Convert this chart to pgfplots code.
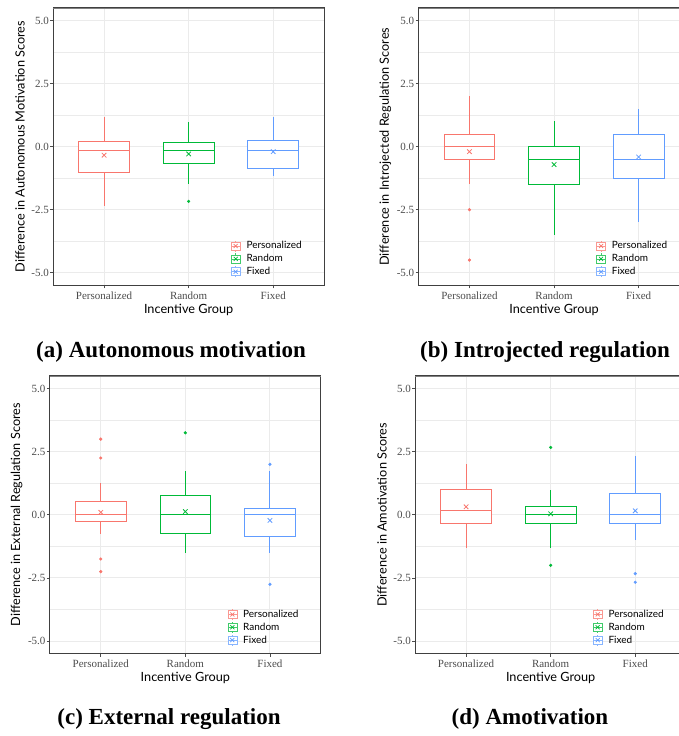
\documentclass[border=0pt]{standalone}
\usepackage{fontspec}
\setmainfont{Liberation Serif}
\newfontfamily\sansf{Lato}
\usepackage{pgfplots}
\pgfplotsset{compat=1.18}
\usepgfplotslibrary{statistics}
\definecolor{cP}{HTML}{F8766D}
\definecolor{cR}{HTML}{00BA38}
\definecolor{cF}{HTML}{619CFF}
\definecolor{gridc}{HTML}{EBEBEB}
\pgfplotsset{
  panel/.style={
    scale only axis, width=270.7pt, height=277.3pt,
    xmin=0.4, xmax=3.6, ymin=-5.5, ymax=5.5,
    xtick={1,2,3}, xticklabels={Personalized,Random,Fixed},
    ytick={-5,-2.5,0,2.5,5}, yticklabels={-5.0,-2.5,0.0,2.5,5.0},
    minor ytick={-3.75,-1.25,1.25,3.75},
    grid=both,
    major grid style={draw=gridc, line width=1pt},
    minor grid style={draw=gridc, line width=0.6pt},
    tick align=outside, tick pos=left,
    major tick length=3pt, minor tick length=0pt,
    tick style={draw=black!70, line width=0.7pt},
    ticklabel style={font=\fontsize{11}{13}\selectfont, text=black!70},
    yticklabel style={inner sep=1.3pt},
    axis line style={draw=black!75, line width=1pt},
    xlabel={Incentive Group},
    label style={font=\sansf\fontsize{12.7}{15}\selectfont},
    xlabel style={at={([yshift=-24.7pt]axis description cs:0.5,0)}, anchor=center},
    ylabel style={at={([xshift=-33.3pt]axis description cs:0,0.5)}, anchor=center},
    legend cell align=left,
    legend style={draw=none, fill=none, at={(axis description cs:0.655,0.025)}, anchor=south west,
      font=\sansf\fontsize{10}{12}\selectfont, row sep=0pt, column sep=4pt, inner sep=0pt},
    boxplot/draw direction=y,
  },
  bp/.style={draw=#1, line width=0.9pt, fill=white, solid, forget plot,
    boxplot/box extend=0.6, boxplot/whisker extend=0},
  keyimg/.style={legend image code/.code={
    \draw[#1!75!white, line width=0.7pt, fill=white] (0pt,-4pt) rectangle (9pt,4pt);
    \draw[#1!75!white, line width=0.7pt] (0pt,0pt)--(9pt,0pt) (4.5pt,-5.5pt)--(4.5pt,-4pt) (4.5pt,4pt)--(4.5pt,5.5pt);
    \draw[#1, line width=0.7pt] (2.5pt,-2pt)--(6.5pt,2pt) (2.5pt,2pt)--(6.5pt,-2pt);
  }},
  outl/.style={only marks, mark=*, mark size=1.4pt, draw=#1, fill=#1, forget plot},
}
% #1 colour, #2 position, #3 lower whisker, #4 Q1, #5 median, #6 Q3, #7 upper whisker, #8 mean
\newcommand{\bx}[8]{%
  \addplot[bp=#1, boxplot prepared={draw position=#2, lower whisker=#3, lower quartile=#4,
    median=#5, upper quartile=#6, upper whisker=#7}] coordinates {};
  \addplot[only marks, mark=x, mark size=3.2pt, draw=#1, line width=0.8pt, forget plot] coordinates {(#2,#8)};
}
\newcommand{\leg}{%
  \addlegendimage{keyimg=cP}\addlegendentry{Personalized}
  \addlegendimage{keyimg=cR}\addlegendentry{Random}
  \addlegendimage{keyimg=cF}\addlegendentry{Fixed}
}
\begin{document}
\begin{tikzpicture}
\useasboundingbox (0pt,0pt) rectangle (678pt,736pt);
% (a)
\begin{axis}[panel, name=pa, at={(53.3pt,450.7pt)}, anchor=south west,
  ylabel={Difference in Autonomous Motivation Scores}]
\bx{cP}{1}{-2.34}{-1.02}{-0.17}{0.2}{1.16}{-0.34}
\bx{cR}{2}{-1.49}{-0.67}{-0.17}{0.16}{0.98}{-0.29}
\bx{cF}{3}{-1.16}{-0.85}{-0.17}{0.24}{1.16}{-0.2}
\addplot[outl=cR] coordinates {(2,-2.17)};
\leg
\end{axis}
% (b)
\begin{axis}[panel, name=pb, at={(418.7pt,450.7pt)}, anchor=south west,
  ylabel={Difference in Introjected Regulation Scores}]
\bx{cP}{1}{-1.5}{-0.5}{0}{0.5}{2.0}{-0.2}
\bx{cR}{2}{-3.5}{-1.5}{-0.5}{0}{1.0}{-0.71}
\bx{cF}{3}{-3.0}{-1.25}{-0.5}{0.5}{1.5}{-0.41}
\addplot[outl=cP] coordinates {(1,-2.5) (1,-4.5)};
\leg
\end{axis}
% (c)
\begin{axis}[panel, name=pc, at={(50pt,82.3pt)}, anchor=south west, height=277.7pt,
  ylabel={Difference in External Regulation Scores}]
\bx{cP}{1}{-0.75}{-0.25}{0}{0.55}{1.25}{0.1}
\bx{cR}{2}{-1.5}{-0.75}{0}{0.75}{1.75}{0.13}
\bx{cF}{3}{-1.5}{-0.87}{0}{0.25}{1.75}{-0.22}
\addplot[outl=cP] coordinates {(1,3.0) (1,2.25) (1,-1.75) (1,-2.25)};
\addplot[outl=cR] coordinates {(2,3.25)};
\addplot[outl=cF] coordinates {(3,2.0) (3,-2.75)};
\leg
\end{axis}
% (d)
\begin{axis}[panel, name=pd, at={(415.3pt,82.3pt)}, anchor=south west, height=277.7pt,
  ylabel={Difference in Amotivation Scores}]
\bx{cP}{1}{-1.33}{-0.33}{0.17}{1.0}{2.0}{0.32}
\bx{cR}{2}{-1.33}{-0.33}{0}{0.33}{1.0}{0.04}
\bx{cF}{3}{-1.0}{-0.33}{0}{0.83}{2.33}{0.16}
\addplot[outl=cR] coordinates {(2,2.67) (2,-2.0)};
\addplot[outl=cF] coordinates {(3,-2.33) (3,-2.67)};
\leg
\end{axis}
\foreach \p in {pa,pb,pc,pd} {\draw[black!50, line width=0.8pt] (\p.north west) -- (\p.north east);}
\node[font=\bfseries\fontsize{23}{27}\selectfont] at (171pt,384pt) {(a) Autonomous motivation};
\node[font=\bfseries\fontsize{23}{27}\selectfont] at (545pt,384pt) {(b) Introjected regulation};
\node[font=\bfseries\fontsize{23}{27}\selectfont] at (169pt,17pt) {(c) External regulation};
\node[font=\bfseries\fontsize{23}{27}\selectfont] at (530pt,17pt) {(d) Amotivation};
\end{tikzpicture}
\end{document}
